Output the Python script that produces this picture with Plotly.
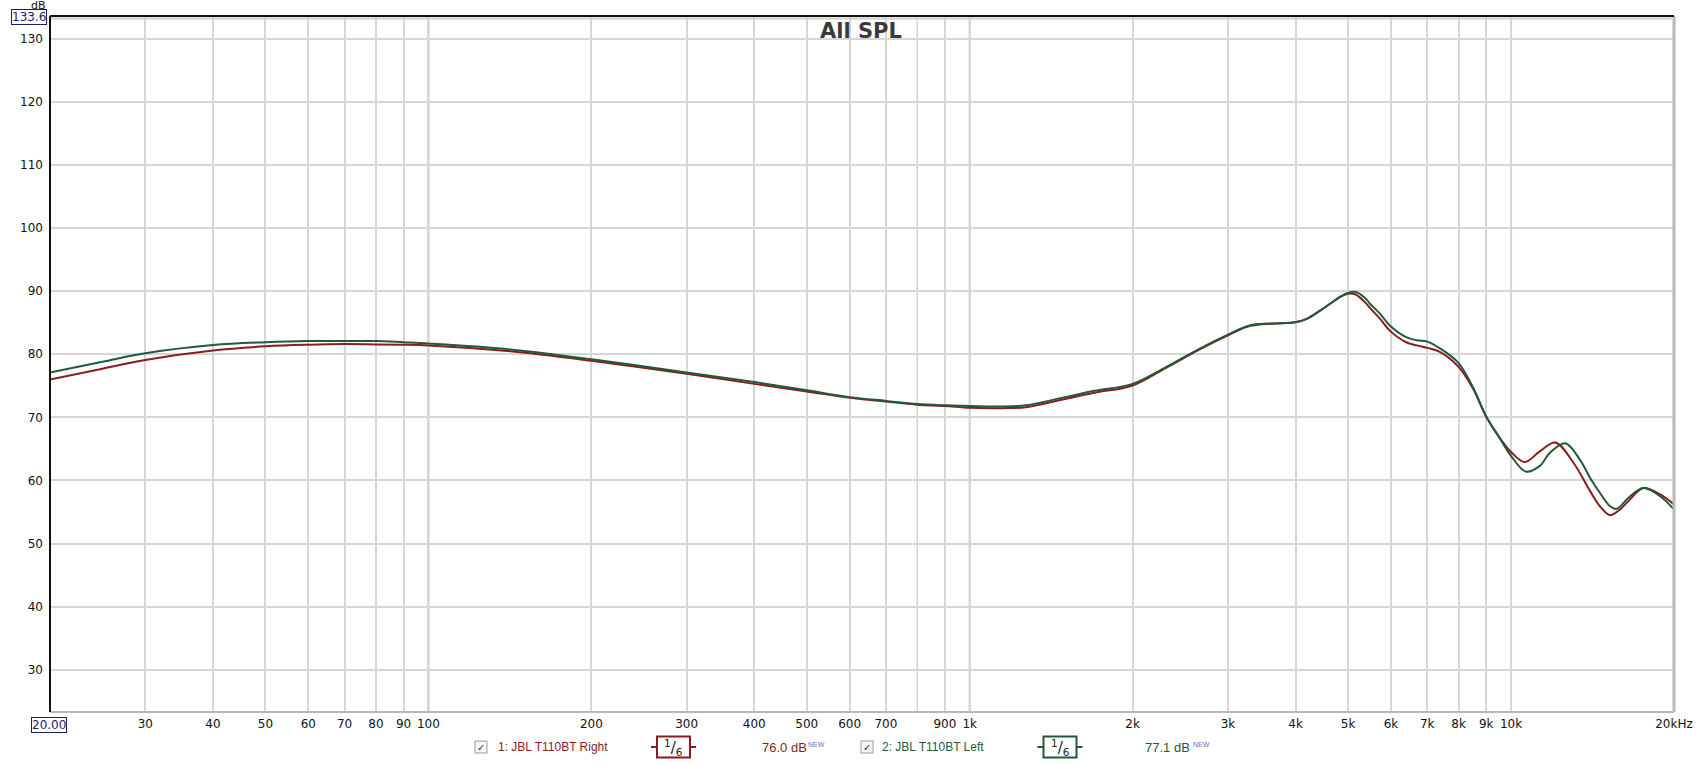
import plotly.graph_objects as go
import math

# ---------------- data ----------------
freq_right = [20, 25, 30, 40, 50, 60, 70, 80, 90, 100, 140, 200, 300, 400, 500, 600, 700, 800, 900, 1000,
              1150, 1270, 1500, 1700, 2000, 2300, 2650, 3000, 3300, 3744, 3990, 4194, 4438, 4632, 4832,
              4994, 5152, 5377, 5490, 5730, 5978, 6400, 6700, 7000, 7400, 8000, 8500, 9000,
              9500, 10000, 10600, 11300, 12070, 13040, 14000, 14600, 15240, 15900, 16500, 17560, 18850,
              20000]
spl_right = [76.0, 77.7, 79.1, 80.6, 81.25, 81.5, 81.6, 81.55, 81.5, 81.4, 80.5, 78.95, 76.9, 75.3, 74.1,
             73.1, 72.5, 72.0, 71.8, 71.5, 71.45, 71.6, 72.9, 73.9, 75.05, 77.8, 80.7, 83.0, 84.5, 84.9,
             85.05, 85.6, 86.9, 88.0, 89.1, 89.6, 89.5, 88.2, 87.3, 85.6, 83.7, 81.9, 81.4,
             81.0, 80.35, 78.0, 74.6, 70.1, 66.9, 64.5, 62.9, 64.6, 66.0, 62.8, 58.3, 55.9, 54.5, 55.4,
             56.8, 58.8, 57.8, 56.2]

freq_left = [20, 25, 30, 40, 50, 60, 70, 80, 90, 100, 140, 200, 300, 400, 500, 600, 700, 800, 900, 1000,
             1150, 1270, 1500, 1700, 2000, 2300, 2650, 3000, 3300, 3744, 3990, 4194, 4438, 4632, 4832,
             4994, 5152, 5377, 5490, 5730, 5978, 6400, 6700, 7000, 7400, 8000, 8500, 9000,
             9500, 10000, 10650, 11300, 11800, 12600, 13400, 14000, 14600, 15240, 15680, 16500, 17560,
             18850, 20000]
spl_left = [77.1, 78.8, 80.15, 81.45, 81.9, 82.1, 82.1, 82.1, 81.9, 81.7, 80.8, 79.2, 77.1, 75.6, 74.3,
            73.2, 72.6, 72.1, 71.9, 71.8, 71.7, 71.9, 73.2, 74.2, 75.3, 77.9, 80.8, 83.1, 84.6, 84.9,
            85.05, 85.6, 86.9, 88.0, 89.1, 89.7, 89.9, 88.9, 88.0, 86.4, 84.5, 82.7, 82.2,
            82.0, 80.9, 78.6, 74.8, 70.1, 66.9, 63.9, 61.4, 62.3, 64.4, 65.9, 63.3, 60.4, 58.0, 55.9,
            55.5, 57.3, 58.8, 57.5, 55.4]

series_names = ["1: JBL T110BT Right", "2: JBL T110BT Left"]
series_levels = ["76.0 dB", "77.1 dB"]
smoothing_label = "1/6"

x_tick_vals = [30, 40, 50, 60, 70, 80, 90, 100, 200, 300, 400, 500, 600, 700, 900, 1000,
               2000, 3000, 4000, 5000, 6000, 7000, 8000, 9000, 10000, 20000]
x_tick_text = ["30", "40", "50", "60", "70", "80", "90", "100", "200", "300", "400", "500", "600",
               "700", "900", "1k", "2k", "3k", "4k", "5k", "6k", "7k", "8k", "9k", "10k", "20kHz"]
extra_grid_x = [800]
decade_lines = [100, 1000, 10000]
y_tick_vals = [30, 40, 50, 60, 70, 80, 90, 100, 110, 120, 130]
y_min, y_max = 23.3, 133.6
x_min, x_max = 20, 20000

RED = "#8a1c1c"
GREEN = "#1f5a3c"
NAVY = "#1d1d68"

# ---------------- layout geometry (pixels) ----------------
W, H = 1698, 765
L, R, T, B = 50, 1674, 16, 712


def px(x):
    return (x - L) / (R - L)


def py(y):
    return (B - y) / (B - T)


fig = go.Figure()
fig.add_trace(go.Scatter(x=freq_right, y=spl_right, mode="lines",
                         line=dict(color=RED, width=2, shape="spline", smoothing=1.0),
                         name=series_names[0], hoverinfo="skip"))
fig.add_trace(go.Scatter(x=freq_left, y=spl_left, mode="lines",
                         line=dict(color=GREEN, width=2, shape="spline", smoothing=1.0),
                         name=series_names[1], hoverinfo="skip"))

font_main = "DejaVu Sans"

fig.update_layout(
    width=W, height=H,
    margin=dict(l=L, r=W - R, t=T, b=H - B, pad=0),
    paper_bgcolor="white", plot_bgcolor="white",
    showlegend=False,
    font=dict(family=font_main, size=12, color="#111111"),
    xaxis=dict(type="log", range=[math.log10(x_min), math.log10(x_max)], automargin=False,
               tickmode="array", tickvals=x_tick_vals, ticktext=x_tick_text,
               showgrid=True, gridcolor="#d6d6d6", gridwidth=1.6,
               zeroline=False, showline=False, ticks="", ticklabelstandoff=3,
               tickfont=dict(family=font_main, size=12, color="#111111")),
    yaxis=dict(range=[y_min, y_max], tickmode="array", tickvals=y_tick_vals, automargin=False,
               showgrid=True, gridcolor="#d6d6d6", gridwidth=1.6,
               zeroline=False, showline=False, ticks="", ticklabelstandoff=6,
               tickfont=dict(family=font_main, size=12, color="#111111")),
)

shapes = []
for g in extra_grid_x:
    shapes.append(dict(type="line", xref="x", yref="paper", x0=g, x1=g, y0=0, y1=1,
                       line=dict(color="#d6d6d6", width=1.6), layer="below"))
# decade lines
for d in decade_lines:
    shapes.append(dict(type="line", xref="x", yref="paper", x0=d, x1=d, y0=0, y1=1,
                       line=dict(color="#b4b4b4", width=2), layer="below"))
# frame
shapes.append(dict(type="line", xref="paper", yref="paper", x0=1, x1=1, y0=0, y1=1,
                   line=dict(color="#b8b8b8", width=3)))
shapes.append(dict(type="line", xref="paper", yref="paper", x0=0, x1=1, y0=0, y1=0,
                   line=dict(color="#b8b8b8", width=2)))
shapes.append(dict(type="line", xref="paper", yref="paper", x0=0, x1=1, y0=py(T + 2.5), y1=py(T + 2.5),
                   line=dict(color="#cfcfcf", width=2)))
shapes.append(dict(type="line", xref="paper", yref="paper", x0=0, x1=1, y0=1, y1=1,
                   line=dict(color="#111111", width=2)))
shapes.append(dict(type="line", xref="paper", yref="paper", x0=0, x1=0, y0=0, y1=1,
                   line=dict(color="#111111", width=2)))

annotations = []
# title
annotations.append(dict(text="<b>All SPL</b>", xref="paper", yref="paper", x=px(861), y=py(31),
                        showarrow=False, font=dict(family=font_main, size=21, color="#3a3a3a"),
                        xanchor="center", yanchor="middle"))
# dB label and boxed extremes
annotations.append(dict(text="dB", xref="paper", yref="paper", x=px(38), y=py(6), showarrow=False,
                        font=dict(family=font_main, size=11, color="#111111"),
                        xanchor="center", yanchor="middle"))
annotations.append(dict(text=f"{y_max:.1f}", xref="paper", yref="paper", x=px(28.5), y=py(17),
                        showarrow=False, font=dict(family=font_main, size=12, color=NAVY),
                        bordercolor=NAVY, borderwidth=1, borderpad=0, bgcolor="white",
                        xanchor="center", yanchor="middle"))
annotations.append(dict(text=f"{x_min:.2f}", xref="paper", yref="paper", x=px(49), y=py(724.5),
                        showarrow=False, font=dict(family=font_main, size=12, color=NAVY),
                        bordercolor=NAVY, borderwidth=1, borderpad=0, bgcolor="white",
                        xanchor="center", yanchor="middle"))

# legend row
LY = 747
legend_items = [
    dict(cb=481, name_x=496, box_c=673.5, lvl_x=759.5, new_x=806, color=RED),
    dict(cb=867, name_x=880, box_c=1060, lvl_x=1143, new_x=1191, color=GREEN),
]
for i, it in enumerate(legend_items):
    c = it["color"]
    # checkbox
    shapes.append(dict(type="rect", xref="paper", yref="paper",
                       x0=px(it["cb"] - 6), x1=px(it["cb"] + 6), y0=py(LY + 6), y1=py(LY - 6),
                       line=dict(color="#9a9a9a", width=1), fillcolor="#f6f6f6"))
    annotations.append(dict(text="✓", xref="paper", yref="paper", x=px(it["cb"]), y=py(LY),
                            showarrow=False, font=dict(family=font_main, size=10, color="#333333"),
                            xanchor="center", yanchor="middle"))
    annotations.append(dict(text=series_names[i], xref="paper", yref="paper", x=px(it["name_x"]), y=py(LY),
                            showarrow=False, font=dict(family="Liberation Sans", size=12, color=c),
                            xanchor="left", yanchor="middle"))
    # smoothing box
    bc = it["box_c"]
    shapes.append(dict(type="rect", xref="paper", yref="paper",
                       x0=px(bc - 16.5), x1=px(bc + 16.5), y0=py(LY + 10.5), y1=py(LY - 10.5),
                       line=dict(color=c, width=2), fillcolor="white"))
    shapes.append(dict(type="line", xref="paper", yref="paper",
                       x0=px(bc - 22.5), x1=px(bc - 16.5), y0=py(LY), y1=py(LY),
                       line=dict(color=c, width=2)))
    shapes.append(dict(type="line", xref="paper", yref="paper",
                       x0=px(bc + 16.5), x1=px(bc + 22.5), y0=py(LY), y1=py(LY),
                       line=dict(color=c, width=2)))
    num, den = smoothing_label.split("/")
    annotations.append(dict(text=f"<sup>{num}</sup>/<sub>{den}</sub>", xref="paper", yref="paper",
                            x=px(bc), y=py(LY), showarrow=False,
                            font=dict(family=font_main, size=15, color="#222222"),
                            xanchor="center", yanchor="middle"))
    annotations.append(dict(text=series_levels[i], xref="paper", yref="paper", x=px(it["lvl_x"]), y=py(LY),
                            showarrow=False, font=dict(family="Liberation Sans", size=13, color=c),
                            xanchor="left", yanchor="middle"))
    annotations.append(dict(text="NEW", xref="paper", yref="paper", x=px(it["new_x"]), y=py(LY - 3),
                            showarrow=False, font=dict(family="Liberation Sans", size=7, color="#6b6bc8"),
                            xanchor="left", yanchor="middle"))

fig.update_layout(shapes=shapes, annotations=annotations)

fig.write_html("out.html", config={"displayModeBar": False},
               post_script="document.body.style.margin='0';document.body.style.overflow='hidden';")
